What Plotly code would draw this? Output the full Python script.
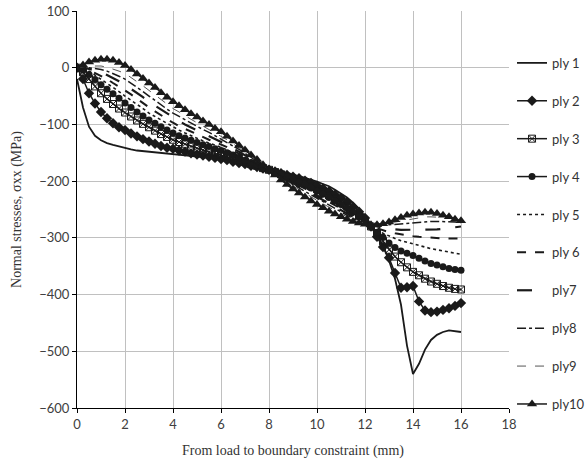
import plotly.graph_objects as go

x_mm = [i * 0.25 for i in range(65)]

ply1 = [-20, -70, -104, -120, -128, -133, -136, -139, -142, -144, -146, -147,
        -148, -149, -150, -151, -152, -153, -154, -155, -156, -157, -158, -160,
        -162, -164, -166, -169, -172, -174, -176, -178, -180, -182, -184, -186,
        -189, -191, -194, -197, -201, -205, -209, -215, -222, -229, -238, -249,
        -262, -276, -293, -314, -340, -372, -418, -490, -540, -522, -497, -480,
        -471, -466, -463, -464, -466]
ply2 = [0, -20, -45, -63, -78, -89, -98, -105, -110, -116, -121, -126,
        -130, -134, -138, -141, -143, -146, -148, -151, -153, -155, -157, -159,
        -161, -163, -166, -168, -170, -173, -175, -178, -180, -183, -186, -189,
        -192, -195, -199, -203, -208, -213, -218, -224, -230, -237, -245, -254,
        -265, -280, -298, -316, -335, -362, -388, -387, -385, -412, -428, -431,
        -430, -427, -424, -420, -415]
ply3 = [0, -8, -20, -33, -45, -55, -64, -72, -79, -86, -93, -99,
        -105, -111, -117, -122, -127, -131, -135, -139, -142, -145, -148, -150,
        -153, -156, -159, -163, -166, -170, -173, -177, -180, -184, -188, -192,
        -196, -200, -204, -209, -214, -219, -225, -231, -237, -244, -252, -261,
        -270, -280, -292, -306, -321, -333, -343, -352, -360, -366, -372, -377,
        -381, -385, -388, -390, -391]
ply4 = [0, -4, -12, -21, -30, -38, -46, -54, -62, -70, -78, -85,
        -92, -98, -104, -110, -115, -120, -124, -128, -132, -136, -139, -143,
        -146, -150, -154, -158, -163, -167, -171, -176, -180, -184, -189, -193,
        -198, -202, -207, -212, -218, -223, -229, -235, -241, -248, -255, -263,
        -271, -280, -290, -299, -309, -317, -323, -327, -331, -336, -341, -345,
        -348, -351, -354, -356, -357]
ply5 = [0, -2, -6, -13, -20, -27, -35, -42, -50, -57, -65, -72,
        -80, -86, -93, -99, -105, -110, -115, -120, -125, -129, -133, -136,
        -140, -145, -150, -155, -160, -165, -170, -175, -180, -185, -190, -195,
        -200, -205, -210, -215, -221, -227, -233, -239, -245, -252, -259, -266,
        -272, -279, -286, -292, -297, -301, -305, -308, -311, -314, -317, -319,
        -321, -323, -325, -327, -329]
ply6 = [0, -1, -4, -9, -14, -20, -27, -33, -40, -47, -55, -62,
        -70, -77, -84, -91, -97, -103, -108, -113, -118, -123, -127, -131,
        -135, -140, -146, -151, -157, -163, -168, -174, -180, -185, -191, -197,
        -202, -208, -213, -219, -225, -231, -237, -243, -249, -255, -261, -267,
        -273, -278, -283, -287, -290, -292, -294, -296, -297, -298, -299, -300,
        -300, -301, -301, -301, -301]
ply7 = [0, 0, -2, -5, -8, -13, -18, -24, -30, -37, -45, -52,
        -60, -67, -74, -81, -88, -94, -100, -105, -110, -115, -120, -125,
        -130, -136, -142, -148, -154, -160, -167, -173, -180, -186, -192, -198,
        -204, -210, -216, -222, -228, -234, -240, -246, -252, -258, -263, -268,
        -273, -277, -280, -282, -284, -285, -286, -286, -286, -286, -286, -286,
        -285, -284, -283, -281, -280]
ply8 = [0, 1, 0, -1, -3, -6, -10, -15, -20, -27, -35, -42,
        -50, -58, -65, -73, -80, -86, -92, -98, -103, -109, -114, -120,
        -125, -131, -138, -144, -151, -158, -165, -173, -180, -187, -193, -200,
        -206, -212, -218, -224, -231, -237, -243, -249, -255, -261, -266, -270,
        -274, -276, -277, -277, -277, -276, -275, -274, -273, -272, -271, -271,
        -271, -271, -272, -272, -273]
ply9 = [0, 2, 3, 3, 3, 1, -2, -6, -10, -17, -24, -32,
        -40, -48, -56, -64, -72, -78, -85, -91, -97, -103, -109, -114,
        -120, -127, -134, -141, -148, -156, -164, -172, -180, -188, -195, -202,
        -209, -215, -221, -228, -234, -240, -246, -252, -258, -263, -268, -272,
        -275, -276, -276, -275, -274, -272, -270, -268, -266, -264, -263, -263,
        -263, -264, -265, -266, -268]
ply10 = [0, 5, 10, 13, 15, 15, 13, 9, 4, -3, -11, -19,
         -27, -35, -44, -52, -60, -67, -74, -81, -87, -94, -100, -107,
         -113, -121, -129, -137, -145, -154, -162, -171, -180, -189, -198, -206,
         -214, -221, -228, -235, -241, -247, -253, -258, -263, -267, -271, -274,
         -276, -277, -277, -275, -272, -268, -264, -260, -258, -256, -255, -255,
         -257, -260, -263, -267, -270]

names = ["ply 1", "ply 2", "ply 3", "ply 4", "ply 5", "ply 6", "ply7", "ply8", "ply9", "ply10"]
series = [ply1, ply2, ply3, ply4, ply5, ply6, ply7, ply8, ply9, ply10]

K = "#1a1a1a"
styles = [
    dict(mode="lines", line=dict(color=K, width=1.8)),
    dict(mode="lines+markers", line=dict(color=K, width=1.5),
         marker=dict(symbol="diamond", size=8, color=K)),
    dict(mode="lines+markers", line=dict(color=K, width=1.5),
         marker=dict(symbol="square-x-open", size=7, color=K, line=dict(width=1))),
    dict(mode="lines+markers", line=dict(color=K, width=1.5),
         marker=dict(symbol="circle", size=7, color=K)),
    dict(mode="lines", line=dict(color=K, width=1.6, dash="dot")),
    dict(mode="lines", line=dict(color=K, width=2, dash="dash")),
    dict(mode="lines", line=dict(color=K, width=2.2, dash="longdash")),
    dict(mode="lines", line=dict(color=K, width=1.5, dash="dashdot")),
    dict(mode="lines", line=dict(color="#555555", width=1, dash="dash")),
    dict(mode="lines+markers", line=dict(color=K, width=1.5),
         marker=dict(symbol="triangle-up", size=9, color=K)),
]

fig = go.Figure()
for i, (nm, ys, st) in enumerate(zip(names, series, styles)):
    fig.add_trace(go.Scatter(x=x_mm, y=ys, name=nm, legendgroup=nm, **st))

tick_font = dict(family="Lato, Open Sans, sans-serif", size=13, color="#404040")
title_font = dict(family="Liberation Serif, Times New Roman, serif", size=14, color="#333333")

fig.update_layout(
    width=587, height=462,
    margin=dict(l=77, r=78, t=11, b=54, autoexpand=False),
    paper_bgcolor="white", plot_bgcolor="white",
    showlegend=True,
    legend=dict(x=1.007, xanchor="left", y=0.907, yanchor="top", xref="paper",
                font=dict(family="Lato, Open Sans, sans-serif", size=13, color="#333333"),
                tracegroupgap=18.0, itemwidth=30, bgcolor="rgba(0,0,0,0)"),
    xaxis=dict(range=[0, 18], dtick=2, tick0=0, showgrid=True, gridcolor="#c0c0c0",
               gridwidth=1, zeroline=False, showline=True, linecolor="black", linewidth=1,
               ticks="outside", ticklen=4, tickcolor="black", tickfont=tick_font,
               title=dict(text="From load to boundary constraint (mm)", font=title_font, standoff=14)),
    yaxis=dict(range=[-600, 100], dtick=100, tick0=0, showgrid=True, gridcolor="#c0c0c0",
               gridwidth=1, zeroline=False, showline=True, linecolor="black", linewidth=1,
               ticks="outside", ticklen=4, tickcolor="black", tickfont=tick_font,
               title=dict(text="Normal stresses, σxx (MPa)", font=title_font, standoff=14)),
)

fig.write_html("out.html")
